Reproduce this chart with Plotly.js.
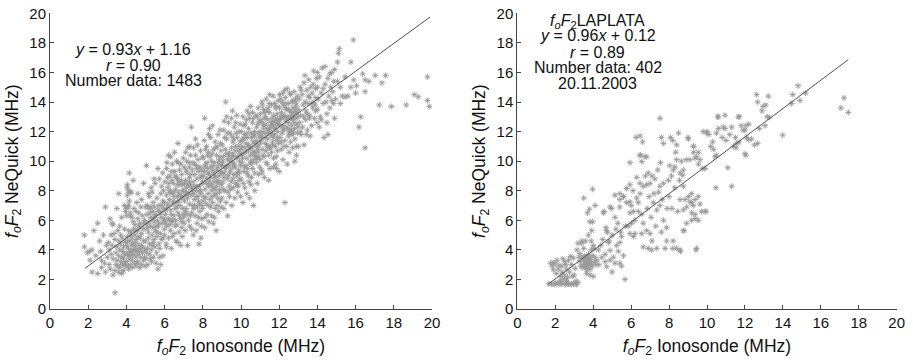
<!DOCTYPE html>
<html>
<head>
<meta charset="utf-8">
<script src="https://cdn.plot.ly/plotly-3.0.1.min.js"></script>
<style>html,body{margin:0;padding:0;background:#fff}#chart{width:913px;height:362px}</style>
</head>
<body>
<div id="chart"></div>
<script>
// ---- Data ----
const leftPoints = [
[1.8,5.0],[1.8,4.2],[1.95,3.8],[2.05,3.9],[2.2,4.0],[2.3,5.3],[2.5,5.8],[2.2,2.5],[2.5,2.4],[2.7,2.8],[2.9,2.5],[2.9,6.9],[2.7,3.3],[2.85,3.1],[2.6,4.6],[2.8,5.0],[2.4,3.6],[2.95,4.3],[2.65,3.9],[2.1,3.3],
[3.05,4.5],[3.1,3.0],[3.15,2.7],[3.2,5.0],[3.25,5.8],[3.3,5.7],[3.35,5.1],[3.3,3.4],[3.4,1.1],[3.4,2.6],[3.45,3.8],[3.5,4.2],[3.5,3.3],[3.55,2.9],[3.6,7.8],[3.6,4.6],[3.6,3.6],[3.65,4.0],[3.65,2.8],[3.7,3.2],[3.7,5.0],[3.7,4.4],[3.75,3.5],[3.75,6.2],[3.8,3.0],[3.8,3.9],[3.8,4.8],[3.85,2.6],[3.85,3.4],[3.85,4.2],[3.9,5.4],[3.9,3.7],[3.9,3.1],[3.95,4.5],[3.95,2.9],[3.95,6.6],[3.4,4.7],[3.55,5.3],[3.2,3.7],[3.1,4.0],[3.75,2.4],[3.5,6.8],[3.25,4.3],[3.0,3.5],[3.65,5.6],[3.45,3.0],[3.9,7.0],[3.3,2.3],[3.15,6.1],[3.6,2.5],
[4.05,8.4],[4.1,8.0],[4.05,7.7],[4.15,7.3],[4.1,6.9],[4.0,6.8],[4.2,6.5],[4.0,6.3],[4.15,9.2],[4.2,6.3],[4.1,7.0],[4.05,8.2],[4.2,7.9],
[4.0,3.8],[4.0,4.3],[4.02,3.2],[4.05,4.9],[4.08,3.6],[4.1,2.9],[4.1,4.1],[4.12,5.3],[4.15,3.4],[4.18,4.6],[4.2,3.9],[4.2,3.0],[4.22,5.0],[4.25,4.3],[4.28,3.6],[4.3,2.8],[4.3,4.8],[4.32,3.3],[4.35,4.0],[4.38,5.4],[4.4,3.7],[4.4,4.5],[4.42,3.1],[4.45,5.0],[4.48,4.2],[4.5,3.5],[4.5,2.9],[4.52,4.7],[4.55,3.9],[4.58,5.3],[4.6,4.4],[4.6,3.2],[4.62,3.7],[4.65,5.6],[4.68,4.1],[4.7,2.8],[4.72,4.8],[4.75,3.5],[4.78,4.3],[4.8,5.1],[4.8,3.0],[4.85,3.8],[4.88,4.6],[4.9,3.3],[4.92,5.4],[4.95,4.0],[4.98,2.9],[4.15,3.7],[4.35,4.4],[4.55,3.1],[4.25,5.2],[4.45,4.0],[4.65,4.9],[4.05,4.6],[4.3,3.9],[4.5,5.3],[4.7,3.9],[4.85,4.2],[4.95,3.5],[4.12,2.7],
[4.3,6.2],[4.35,5.9],[4.4,6.8],[4.5,6.6],[4.55,7.2],[4.6,6.1],[4.65,6.5],[4.7,5.8],[4.75,6.9],[4.8,7.4],[4.85,6.3],[4.9,8.5],[4.95,6.0],[4.45,5.7],[4.25,7.9],[4.6,7.8],[4.9,5.8],[4.75,5.5],[4.35,8.7],
[5.0,4.6],[5.02,3.4],[5.05,5.8],[5.05,9.7],[5.08,6.4],[5.1,4.1],[5.1,7.0],[5.12,3.0],[5.15,5.2],[5.18,6.8],[5.2,4.4],[5.2,7.6],[5.22,3.7],[5.25,5.6],[5.28,6.2],[5.3,4.0],[5.3,8.2],[5.32,3.2],[5.35,5.0],[5.38,6.6],[5.4,4.5],[5.4,7.2],[5.42,3.5],[5.45,5.9],[5.48,6.9],[5.5,4.2],[5.5,8.5],[5.52,5.3],[5.55,6.4],[5.58,3.8],[5.6,7.5],[5.6,4.9],[5.62,6.0],[5.65,2.7],[5.68,5.6],[5.7,7.0],[5.7,4.4],[5.72,8.8],[5.75,6.6],[5.78,5.1],[5.8,3.0],[5.8,7.8],[5.82,6.2],[5.85,4.7],[5.88,5.8],[5.9,7.3],[5.9,9.2],[5.92,3.6],[5.95,6.8],[5.98,5.4],[5.0,6.9],[5.15,4.8],[5.25,3.4],[5.35,7.9],[5.45,4.7],[5.55,5.6],[5.65,6.7],[5.75,4.1],[5.85,8.3],[5.95,6.1],[5.05,3.8],[5.2,5.9],[5.4,6.1],[5.6,5.2],[5.8,6.5],[5.1,5.5],[5.3,6.9],[5.5,6.3],[5.7,5.8],[5.9,4.8],[5.15,7.8],[5.45,8.8],[5.65,9.5],[5.35,4.3],[5.55,3.1],[5.75,3.5],[5.25,6.5],[5.85,7.0],[5.95,8.0],[5.4,5.5],
[6.0,7.2],[6.0,5.0],[6.02,8.6],[6.05,6.4],[6.08,4.4],[6.1,9.5],[6.1,7.7],[6.12,5.6],[6.15,6.9],[6.18,8.2],[6.2,4.8],[6.2,10.4],[6.22,6.1],[6.25,7.4],[6.28,9.0],[6.3,5.3],[6.3,8.0],[6.32,6.7],[6.35,4.1],[6.38,7.8],[6.4,5.9],[6.4,9.8],[6.42,7.1],[6.45,8.5],[6.48,6.3],[6.5,5.1],[6.5,7.6],[6.52,9.3],[6.55,6.8],[6.58,8.1],[6.6,4.6],[6.6,7.2],[6.62,10.0],[6.65,5.7],[6.68,8.8],[6.7,11.2],[6.7,6.5],[6.72,7.9],[6.75,5.2],[6.78,9.4],[6.8,7.0],[6.8,8.4],[6.82,6.1],[6.85,4.3],[6.88,7.6],[6.9,9.1],[6.9,5.5],[6.92,8.0],[6.95,6.8],[6.98,10.2],[6.05,5.8],[6.15,8.9],[6.25,6.0],[6.35,9.3],[6.45,7.3],[6.55,5.6],[6.65,8.4],[6.75,7.3],[6.85,9.8],[6.95,7.5],[6.08,6.7],[6.18,7.1],[6.28,5.7],[6.38,8.7],[6.48,7.9],[6.58,6.0],[6.68,7.6],[6.78,6.3],[6.88,8.7],[6.98,6.4],[6.12,9.9],[6.32,10.3],[6.52,10.6],[6.72,9.9],[6.92,4.9],[6.02,6.0],[6.22,8.5],[6.42,6.0],[6.62,8.9],[6.82,7.7],[6.1,4.2],[6.4,4.9],[6.7,4.5],[6.9,5.9],[6.55,9.0],[6.25,7.9],[6.75,8.6],[6.35,6.4],[6.65,6.9],[6.95,8.4],
[7.0,8.0],[7.0,6.2],[7.02,9.6],[7.05,7.3],[7.08,5.3],[7.1,8.7],[7.1,10.6],[7.12,6.8],[7.15,7.9],[7.18,9.2],[7.2,4.3],[7.2,7.5],[7.22,8.4],[7.25,6.0],[7.28,9.9],[7.3,7.1],[7.3,8.9],[7.32,5.6],[7.35,10.4],[7.38,7.7],[7.4,12.3],[7.4,8.2],[7.42,6.5],[7.45,9.4],[7.48,7.0],[7.5,5.0],[7.5,8.6],[7.52,10.9],[7.55,7.4],[7.58,9.1],[7.6,6.3],[7.6,8.0],[7.62,11.5],[7.65,7.6],[7.68,9.7],[7.7,5.8],[7.7,8.8],[7.72,6.9],[7.75,10.1],[7.78,7.3],[7.8,9.3],[7.8,4.4],[7.82,8.3],[7.85,6.6],[7.88,10.7],[7.9,7.8],[7.9,4.8],[7.92,9.0],[7.95,6.1],[7.98,8.5],[7.05,8.5],[7.15,10.0],[7.25,7.8],[7.35,6.3],[7.45,8.0],[7.55,9.8],[7.65,5.3],[7.75,8.0],[7.85,9.6],[7.95,7.0],[7.08,7.7],[7.18,6.4],[7.28,8.6],[7.38,9.1],[7.48,9.9],[7.58,7.0],[7.68,8.3],[7.78,6.2],[7.88,8.0],[7.98,10.3],[7.12,9.4],[7.32,11.0],[7.52,6.8],[7.72,11.1],[7.92,5.6],[7.02,5.8],[7.22,10.9],[7.42,5.4],[7.62,10.4],[7.82,7.1],[7.1,6.6],[7.3,9.6],[7.5,7.8],[7.7,9.5],[7.9,8.9],[7.15,8.2],[7.35,8.4],[7.55,8.3],[7.75,7.6],[7.95,9.4],
[8.0,8.6],[8.0,6.8],[8.02,10.2],[8.05,7.6],[8.08,9.3],[8.1,12.9],[8.1,5.5],[8.12,8.1],[8.15,9.8],[8.18,7.1],[8.2,11.0],[8.2,8.8],[8.22,6.4],[8.25,9.5],[8.28,7.8],[8.3,10.6],[8.3,8.3],[8.32,5.9],[8.35,9.1],[8.38,7.4],[8.4,11.6],[8.4,8.9],[8.42,6.9],[8.45,10.0],[8.48,8.0],[8.5,12.4],[8.5,9.4],[8.52,7.2],[8.55,10.8],[8.58,8.6],[8.6,6.2],[8.6,9.9],[8.62,7.7],[8.65,11.3],[8.68,9.0],[8.7,5.3],[8.7,8.3],[8.72,10.4],[8.75,7.0],[8.78,9.6],[8.8,11.8],[8.8,8.7],[8.82,6.6],[8.85,10.1],[8.88,7.9],[8.9,9.3],[8.9,12.1],[8.92,7.3],[8.95,10.7],[8.98,8.4],[8.05,9.0],[8.15,7.5],[8.25,10.4],[8.35,8.6],[8.45,6.3],[8.55,9.7],[8.65,8.1],[8.75,11.0],[8.85,9.0],[8.95,6.9],[8.08,11.4],[8.18,8.5],[8.28,9.2],[8.38,10.3],[8.48,7.6],[8.58,9.2],[8.68,10.9],[8.78,7.5],[8.88,8.1],[8.98,9.7],[8.12,6.2],[8.32,7.0],[8.52,8.2],[8.72,9.4],[8.92,11.2],[8.02,7.3],[8.22,9.9],[8.42,9.6],[8.62,8.9],[8.82,9.9],[8.1,9.6],[8.3,11.8],[8.5,10.5],[8.7,7.8],[8.9,10.3],[8.15,10.8],[8.45,8.4],[8.65,6.8],[8.85,8.5],[8.35,12.2],[8.55,5.8],[8.75,8.6],[8.95,9.2],
[9.0,9.8],[9.0,7.5],[9.02,11.1],[9.05,8.6],[9.08,10.3],[9.1,6.8],[9.1,12.1],[9.12,9.2],[9.15,8.0],[9.18,10.8],[9.2,14.0],[9.2,9.6],[9.22,7.2],[9.25,11.5],[9.28,8.8],[9.3,6.3],[9.3,10.1],[9.32,9.0],[9.35,12.6],[9.38,8.3],[9.4,10.6],[9.4,7.6],[9.42,11.9],[9.45,9.4],[9.48,8.6],[9.5,10.9],[9.5,12.9],[9.52,7.0],[9.55,9.9],[9.58,11.3],[9.6,8.2],[9.6,10.4],[9.62,9.1],[9.65,12.3],[9.68,7.5],[9.7,11.0],[9.7,9.6],[9.72,8.5],[9.75,10.2],[9.78,13.1],[9.8,9.0],[9.8,11.6],[9.82,7.9],[9.85,10.7],[9.88,9.4],[9.9,12.0],[9.9,8.7],[9.92,10.0],[9.95,11.3],[9.98,9.7],[9.05,10.0],[9.15,11.6],[9.25,9.7],[9.35,10.4],[9.45,8.1],[9.55,10.4],[9.65,9.8],[9.75,11.9],[9.85,8.3],[9.95,10.5],[9.08,8.1],[9.18,9.5],[9.28,11.9],[9.38,9.7],[9.48,10.2],[9.58,8.8],[9.68,10.7],[9.78,9.2],[9.88,11.0],[9.98,7.6],[9.12,12.7],[9.32,7.9],[9.52,11.7],[9.72,12.6],[9.92,9.2],[9.02,9.2],[9.22,10.5],[9.42,10.0],[9.62,11.5],[9.82,10.3],[9.1,8.9],[9.4,9.2],[9.6,9.6],[9.8,8.4],[9.95,12.5],[9.25,13.0],[9.55,13.4],
[10.0,10.8],[10.0,8.8],[10.02,12.0],[10.05,9.9],[10.08,11.4],[10.1,7.2],[10.1,13.0],[10.12,10.5],[10.15,9.3],[10.18,11.8],[10.2,8.2],[10.2,10.9],[10.22,12.5],[10.25,9.7],[10.28,11.2],[10.3,7.8],[10.3,10.2],[10.32,13.4],[10.35,11.6],[10.38,9.0],[10.4,10.7],[10.4,12.2],[10.42,8.6],[10.45,11.0],[10.48,9.8],[10.5,13.7],[10.5,10.4],[10.52,11.9],[10.55,8.9],[10.58,10.9],[10.6,12.6],[10.6,9.5],[10.62,11.3],[10.65,7.0],[10.68,10.1],[10.7,12.0],[10.7,11.7],[10.72,9.2],[10.75,10.6],[10.78,13.1],[10.8,11.4],[10.8,9.9],[10.82,12.3],[10.85,8.5],[10.88,10.8],[10.9,11.9],[10.9,13.6],[10.92,10.3],[10.95,12.7],[10.98,9.6],[10.05,11.0],[10.15,12.4],[10.25,10.6],[10.35,9.5],[10.45,12.9],[10.55,11.6],[10.65,12.9],[10.75,11.2],[10.85,10.2],[10.95,11.1],[10.08,10.2],[10.18,9.6],[10.28,12.8],[10.38,11.1],[10.48,10.9],[10.58,9.9],[10.68,11.8],[10.78,10.3],[10.88,12.5],[10.98,11.6],[10.12,8.5],[10.32,9.2],[10.52,8.4],[10.72,8.0],[10.92,9.1],[10.02,10.4],[10.22,11.6],[10.42,13.2],[10.62,10.6],[10.82,11.0],[10.1,11.5],[10.3,11.9],[10.5,10.0],[10.7,10.4],[10.9,10.6],[10.45,7.5],[10.6,13.3],[10.85,13.0],
[11.0,12.0],[11.0,10.1],[11.02,13.2],[11.05,11.3],[11.08,9.4],[11.1,12.6],[11.1,14.0],[11.12,10.8],[11.15,11.9],[11.18,13.5],[11.2,10.3],[11.2,12.2],[11.22,8.9],[11.25,11.6],[11.28,13.0],[11.3,10.7],[11.3,12.5],[11.32,14.2],[11.35,11.1],[11.38,9.8],[11.4,12.8],[11.4,11.5],[11.42,13.6],[11.45,10.4],[11.48,12.1],[11.5,13.3],[11.5,11.0],[11.52,9.5],[11.55,12.4],[11.58,11.7],[11.6,13.8],[11.6,10.6],[11.62,12.9],[11.65,11.3],[11.68,14.4],[11.7,12.3],[11.7,10.2],[11.72,13.1],[11.75,11.8],[11.78,12.7],[11.8,13.6],[11.8,11.0],[11.82,9.8],[11.85,12.5],[11.88,11.4],[11.9,13.2],[11.9,10.7],[11.92,12.0],[11.95,14.1],[11.98,11.2],[11.05,12.8],[11.15,10.4],[11.25,12.9],[11.35,13.4],[11.45,11.9],[11.55,10.9],[11.65,12.6],[11.75,13.9],[11.85,10.3],[11.95,12.8],[11.08,11.6],[11.18,12.4],[11.28,11.2],[11.38,12.2],[11.48,13.9],[11.58,12.6],[11.68,11.1],[11.78,12.2],[11.88,13.7],[11.98,12.4],[11.12,13.8],[11.32,9.9],[11.52,12.2],[11.72,11.6],[11.92,11.6],[11.02,11.7],[11.22,13.3],[11.42,10.9],[11.62,11.9],[11.82,12.9],[11.1,9.2],[11.3,11.9],[11.5,14.5],[11.7,9.6],[11.9,12.6],[11.45,8.7],[11.85,9.5],
[12.0,12.5],[12.0,9.3],[12.02,13.6],[12.05,11.6],[12.08,14.2],[12.1,12.9],[12.1,10.8],[12.12,13.3],[12.15,11.9],[12.18,14.6],[12.2,12.4],[12.2,10.1],[12.22,13.8],[12.25,12.1],[12.28,13.1],[12.3,7.2],[12.3,11.4],[12.32,14.3],[12.35,12.7],[12.38,13.5],[12.4,11.0],[12.4,12.3],[12.42,14.9],[12.45,13.0],[12.48,11.7],[12.5,13.9],[12.5,12.6],[12.52,10.6],[12.55,13.4],[12.58,12.0],[12.6,14.5],[12.6,11.3],[12.62,13.1],[12.65,12.4],[12.68,14.0],[12.7,12.8],[12.7,10.9],[12.72,13.6],[12.75,11.9],[12.78,14.7],[12.8,12.2],[12.8,13.3],[12.82,11.5],[12.85,14.2],[12.88,12.9],[12.9,13.8],[12.9,10.4],[12.92,12.5],[12.95,14.4],[12.98,13.0],[12.05,12.8],[12.15,14.0],[12.25,11.0],[12.35,13.9],[12.45,12.2],[12.55,14.6],[12.65,11.8],[12.75,13.0],[12.85,13.6],[12.95,11.9],[12.08,13.0],[12.18,12.2],[12.28,14.8],[12.38,12.9],[12.48,13.5],[12.58,12.9],[12.68,13.3],[12.78,12.6],[12.88,14.0],[12.98,12.3],[12.12,11.3],[12.32,13.6],[12.52,11.9],[12.72,14.1],[12.92,13.3],[12.02,14.5],[12.42,9.8],[12.62,12.1],[12.82,10.0],[12.9,11.0],[12.2,13.0],
[13.0,13.5],[13.0,11.0],[13.05,14.2],[13.08,12.6],[13.1,15.0],[13.12,13.1],[13.15,11.8],[13.2,14.5],[13.22,12.3],[13.25,13.8],[13.3,15.3],[13.3,11.1],[13.35,14.0],[13.38,12.8],[13.4,13.4],[13.45,14.8],[13.48,12.1],[13.5,13.9],[13.55,15.5],[13.58,12.9],[13.6,14.3],[13.6,13.1],[13.65,15.0],[13.7,12.4],[13.72,14.6],[13.75,13.6],[13.8,16.1],[13.82,14.0],[13.85,12.9],[13.9,14.9],[13.9,13.4],[13.95,15.6],[13.98,12.6],[13.15,14.8],[13.28,13.0],[13.42,11.8],[13.52,14.4],[13.68,13.9],[13.78,15.2],[13.92,14.3],[13.1,12.0],[13.45,13.2],[13.62,11.7],[13.88,13.8],[13.35,15.8],
[14.0,15.0],[14.0,13.5],[14.05,14.2],[14.1,15.7],[14.15,13.0],[14.2,14.6],[14.25,16.3],[14.3,13.9],[14.35,11.6],[14.4,15.2],[14.4,16.4],[14.45,14.0],[14.5,12.6],[14.55,15.6],[14.6,14.4],[14.65,13.6],[14.7,15.0],[14.75,16.0],[14.8,14.7],[14.85,15.4],[14.9,12.9],[14.9,16.2],[14.95,14.2],[14.1,12.3],[14.3,14.9],[14.5,13.2],[14.65,15.9],[14.85,13.9],[14.0,16.0],[14.2,12.8],[14.55,11.8],[14.75,14.1],
[15.05,16.7],[15.1,17.3],[15.15,17.6],[15.05,15.4],[15.2,15.0],[15.3,14.4],[15.45,15.7],[15.45,14.35],[15.6,14.4],[15.75,16.7],[15.75,15.0],[15.88,18.2],[15.9,15.5],[16.05,15.1],[16.0,14.6],[16.37,15.9],[16.5,15.5],[16.7,15.4],[16.5,14.7],[17.03,15.8],[17.57,15.8],[17.38,15.3],[16.27,13.0],[16.18,12.3],[16.5,10.9],[17.24,13.8],[17.87,13.7],[18.65,13.8],[19.07,14.5],[19.28,14.35],[19.76,15.7],[19.76,14.1],[19.86,13.7],[15.2,13.9]
];
const rightPoints = [
[1.65,1.7],[1.8,1.68],[1.95,1.65],[2.1,1.7],[2.25,1.66],[2.4,1.7],[2.55,1.65],[2.7,1.68],[2.85,1.64],[3.0,1.7],[3.12,1.66],[3.2,1.8],[3.1,1.9],[2.95,1.75],[2.6,1.8],[2.3,1.85],[2.0,1.8],
[1.75,3.1],[1.9,3.15],[2.0,3.05],[2.1,3.3],[2.2,2.95],[2.35,2.9],[1.9,2.65],[2.05,2.4],[2.35,2.5],[2.5,2.3],[2.45,2.05],[2.6,1.95],[2.25,1.9],[2.7,1.75],[2.8,3.55],[2.95,3.45],[2.7,3.3],[2.85,3.0],[3.05,2.75],[2.5,3.2],[2.6,2.7],[2.15,2.7],[2.75,2.5],[2.9,2.2],[3.0,2.3],[2.4,3.4],[2.55,3.0],[1.85,2.9],[2.3,2.2],[2.65,2.15],
[3.2,4.45],[3.4,4.45],[3.15,4.0],[3.3,3.75],[3.5,3.3],[3.55,3.2],[3.4,3.5],[3.6,3.4],[3.65,3.1],[3.7,2.9],[3.75,3.25],[3.8,3.0],[3.85,3.35],[3.6,2.8],[3.5,3.0],[3.7,3.5],[3.9,3.1],[3.95,2.9],[3.65,2.41],[3.83,2.3],[4.0,2.2],[3.45,2.8],[3.55,3.6],[3.75,3.7],[3.85,2.7],[4.05,3.2],[4.1,3.5],[4.15,3.0],[3.3,3.2],[3.35,2.9],[3.95,3.6],[4.2,3.3],[3.6,3.0],[3.72,3.15],[3.8,3.45],[3.68,2.65],[3.9,4.0],[4.0,4.3],[3.5,4.1],[3.25,3.5],
[3.5,7.5],[3.97,8.1],[4.1,7.0],[3.7,6.5],[3.8,6.75],[3.97,5.9],[3.75,5.0],[3.83,5.9],[3.92,5.3],[3.6,4.6],[3.4,4.6],[4.05,4.1],[3.9,4.6],
[4.27,4.0],[4.45,3.5],[4.63,3.2],[4.71,2.86],[4.8,4.5],[4.89,3.96],[4.63,3.7],[4.54,6.5],[4.89,6.9],[4.68,5.5],[4.75,5.2],[4.57,6.6],[4.7,5.3],[4.97,6.8],[5.24,4.3],[5.41,4.5],[5.32,3.9],[5.6,3.6],[5.4,3.1],[5.5,2.9],[5.68,2.0],[5.06,3.5],[4.89,3.3],[5.15,3.1],[5.15,7.7],[5.6,7.6],[5.76,8.15],[5.94,8.4],[5.94,7.25],[5.4,6.9],[5.15,6.2],[5.7,5.6],[5.94,5.1],[5.41,7.4],[5.59,7.6],[5.76,7.2],[5.41,7.8],[5.94,9.9],[5.94,6.5],[5.85,5.6],[5.3,5.8],[5.0,5.0],[4.4,4.3],[4.5,4.7],[5.45,5.2],[4.3,3.0],[5.0,2.5],[5.5,4.9],[4.85,4.6],[5.2,5.4],
[6.12,6.6],[6.03,5.8],[6.2,5.1],[6.12,4.9],[6.26,11.6],[6.47,11.7],[6.6,11.3],[6.5,10.4],[6.73,10.3],[6.47,10.4],[6.82,10.3],[6.56,9.97],[6.47,8.5],[6.64,8.3],[6.82,8.4],[7.0,8.5],[6.47,7.8],[6.29,7.5],[6.38,7.2],[6.38,6.6],[6.56,6.4],[6.64,5.8],[6.2,6.0],[6.56,5.1],[6.82,5.3],[7.0,5.1],[6.64,4.2],[6.9,4.1],[7.08,4.0],[7.17,7.2],[7.35,6.7],[7.52,7.0],[7.7,6.0],[7.87,5.5],[7.87,4.6],[7.35,4.1],[7.79,4.1],[7.52,8.3],[7.7,8.5],[7.96,8.7],[7.52,12.9],[7.6,11.6],[7.7,11.2],[6.9,9.2],[7.1,9.0],[6.75,9.0],[7.25,8.8],[7.4,9.4],[6.95,7.6],[7.2,7.8],[7.45,7.9],[7.65,7.4],[6.3,8.9],[6.1,8.0],[6.85,6.8],[7.05,6.2],[7.3,5.6],[7.6,5.2],[7.9,6.8],[6.0,7.0],[7.1,4.6],[7.55,9.9],
[8.08,11.6],[8.2,11.4],[8.5,11.9],[8.4,11.1],[8.13,9.0],[8.04,9.7],[8.22,9.4],[8.4,10.1],[8.31,9.6],[8.58,9.2],[8.75,8.3],[8.84,7.4],[9.02,7.6],[9.19,7.2],[8.22,4.6],[8.4,4.1],[8.75,5.3],[8.93,5.8],[9.37,6.4],[9.54,6.0],[9.72,6.6],[9.9,6.6],[9.45,4.1],[8.6,3.9],[8.2,4.1],[9.0,11.6],[9.3,11.0],[9.45,10.3],[9.55,9.8],[8.9,10.1],[9.1,10.1],[9.37,10.2],[9.63,10.1],[9.9,9.5],[9.77,9.5],[8.75,9.4],[8.72,9.05],[9.19,7.8],[9.37,7.4],[9.54,7.6],[9.63,7.1],[9.28,7.0],[9.1,7.25],[8.58,7.4],[8.75,6.7],[8.93,6.9],[9.19,6.5],[9.19,6.0],[9.37,6.1],[9.95,6.6],[8.79,5.3],[8.58,4.0],[9.42,4.0],[9.02,11.5],[9.28,11.0],[9.3,10.6],[9.54,10.6],[8.3,8.2],[8.55,8.7],[8.0,7.6],[8.45,6.6],[8.15,6.8],[9.8,12.0],[9.98,11.9],[8.35,10.6],[8.65,10.0],
[10.0,12.0],[10.1,11.8],[10.3,11.3],[10.2,11.0],[10.34,10.8],[10.42,10.3],[10.5,10.4],[10.6,12.2],[10.86,12.3],[10.5,11.9],[10.56,13.0],[10.95,13.1],[10.6,13.0],[10.95,12.2],[11.1,9.55],[11.3,8.3],[10.47,8.2],[11.7,13.0],[12.09,11.6],[12.18,11.45],[12.35,11.5],[12.0,12.1],[11.9,12.1],[11.7,11.3],[11.4,11.0],[11.5,11.6],[11.53,10.9],[12.0,10.5],[12.05,10.4],[11.65,13.0],[12.05,12.4],[11.2,11.8],[11.0,11.4],[11.3,12.3],[10.8,11.6],[11.55,11.2],[11.8,12.4],[12.2,12.5],
[12.62,14.5],[13.23,14.4],[12.67,14.0],[13.1,13.8],[12.9,13.4],[13.18,13.0],[13.28,12.95],[13.06,12.4],[12.67,11.2],[12.5,11.1],[13.99,11.76],[14.8,15.1],[14.52,14.5],[14.9,14.1],[15.2,14.6],[14.46,13.9],[17.22,14.28],[17.06,13.6],[17.45,13.29],[12.95,13.7],[12.75,12.2]
];
// Regression lines (end points)
const leftFitX = [1.83, 19.9];
const leftFitY = [2.75, 19.75];
const rightFitX = [1.65, 17.45];
const rightFitY = [1.7, 16.87];
const axisTicks = [0, 2, 4, 6, 8, 10, 12, 14, 16, 18, 20];
const leftLabels = ["<i>y</i> = 0.93<i>x</i> + 1.16", "<i>r</i> = 0.90", "Number data: 1483"];
const rightLabels = ["<i>f</i><sub><i>o</i></sub><i>F</i><sub>2</sub>LAPLATA", "<i>y</i> = 0.96<i>x</i> + 0.12", "<i>r</i> = 0.89", "Number data: 402", "20.11.2003"];
const xTitle = "<i>f</i><sub><i>o</i></sub><i>F</i><sub>2</sub> Ionosonde (MHz)";
const yTitle = "<i>f</i><sub><i>o</i></sub><i>F</i><sub>2</sub> NeQuick (MHz)";

// ---- Drawing ----
const W = 913, H = 362;
const FONT = "Liberation Sans, Arial, Helvetica, sans-serif";
const markerStyle = {symbol: "asterisk-open", size: 5, color: "#999", line: {color: "#999", width: 0.9}};
const lineStyle = {color: "#505050", width: 1};

const traces = [
  {type: "scatter", mode: "markers", x: leftPoints.map(p => p[0]), y: leftPoints.map(p => p[1]), marker: markerStyle, xaxis: "x", yaxis: "y", hoverinfo: "skip"},
  {type: "scatter", mode: "lines", x: leftFitX, y: leftFitY, line: lineStyle, xaxis: "x", yaxis: "y", hoverinfo: "skip"},
  {type: "scatter", mode: "markers", x: rightPoints.map(p => p[0]), y: rightPoints.map(p => p[1]), marker: markerStyle, xaxis: "x2", yaxis: "y2", hoverinfo: "skip"},
  {type: "scatter", mode: "lines", x: rightFitX, y: rightFitY, line: lineStyle, xaxis: "x2", yaxis: "y2", hoverinfo: "skip"}
];

function axisBase(extra) {
  return Object.assign({
    range: [0, 20], tickvals: axisTicks, ticktext: axisTicks.map(String),
    showgrid: false, zeroline: false, showline: true, linecolor: "#444", linewidth: 1,
    ticks: "inside", ticklen: 4, tickcolor: "#444", mirror: false,
    tickfont: {family: FONT, size: 15, color: "#111"}, fixedrange: true
  }, extra);
}

const yDom = [(H - 309) / H, (H - 13.3) / H];
const titleFont = {family: FONT, size: 17.5, color: "#111"};
const layout = {
  width: W, height: H, margin: {l: 0, r: 0, t: 0, b: 0},
  paper_bgcolor: "#fff", plot_bgcolor: "#fff", showlegend: false,
  font: {family: FONT, color: "#111"},
  xaxis: axisBase({domain: [50 / W, 432 / W], anchor: "y", title: {text: xTitle, font: titleFont, standoff: 9}}),
  yaxis: axisBase({domain: yDom, anchor: "x", title: {text: yTitle, font: titleFont, standoff: 6}}),
  xaxis2: axisBase({domain: [517.3 / W, 896.7 / W], anchor: "y2", title: {text: xTitle, font: titleFont, standoff: 9}}),
  yaxis2: axisBase({domain: yDom, anchor: "x2", title: {text: yTitle, font: titleFont, standoff: 6}}),
  annotations: []
};

const leftYs = [17.57, 16.49, 15.47];
leftLabels.forEach((t, i) => layout.annotations.push({
  xref: "x", yref: "y", x: 4.35, y: leftYs[i], text: t, showarrow: false, borderpad: 0,
  xanchor: "center", yanchor: "middle", font: {family: FONT, size: 16, color: "#111"}
}));
const rightYs = [19.46, 18.47, 17.36, 16.32, 15.27];
rightLabels.forEach((t, i) => layout.annotations.push({
  xref: "x2", yref: "y2", x: 4.25, y: rightYs[i], text: t, showarrow: false, borderpad: 0,
  xanchor: "center", yanchor: "middle", font: {family: FONT, size: 16, color: "#111"}
}));

Plotly.newPlot("chart", traces, layout, {staticPlot: true, displayModeBar: false});
</script>
</body>
</html>
